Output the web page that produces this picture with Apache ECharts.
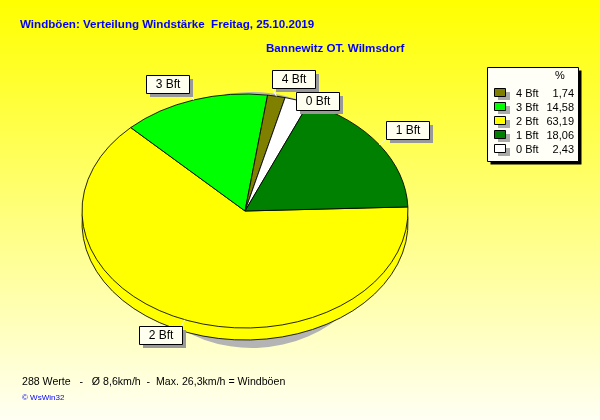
<!DOCTYPE html>
<html>
<head>
<meta charset="utf-8">
<script src="https://cdn.jsdelivr.net/npm/echarts@6/dist/echarts.min.js"></script>
<style>html,body{margin:0;padding:0;}#c{width:600px;height:420px;}</style>
</head>
<body>
<div id="c"></div>
<script>
// ---- data ----
const categories = ['4 Bft', '3 Bft', '2 Bft', '1 Bft', '0 Bft'];
const percents = [1.74, 14.58, 63.19, 18.06, 2.43];
const sliceColors = ['#808000', '#00FF00', '#FFFF00', '#008000', '#FFFFFF'];
const pieOrder = ['2 Bft', '3 Bft', '4 Bft', '0 Bft', '1 Bft'];
const titleText = 'Windböen: Verteilung Windstärke  Freitag, 25.10.2019';
const subtitleText = 'Bannewitz OT. Wilmsdorf';
const footerText = '288 Werte   -   Ø 8,6km/h  -  Max. 26,3km/h = Windböen';
const copyrightText = '© WsWin32';

// ---- layout (not data) ----
const FONT = '"Liberation Sans", Arial, sans-serif';
const CX = 245, CY = 211, RX = 163, RY = 117, DEPTH = 12, START = -2;
const SH = { x: 252, y: 220, rx: 135, ry: 128 };
const BOXW = 43, BOXH = 18;
const labelPlacement = {
  '2 Bft': { corner: 'tr', dx: -3, dy: 6 },
  '3 Bft': { corner: 'br', dx: -5, dy: -7 },
  '4 Bft': { corner: 'bl', dx: -4, dy: -8 },
  '0 Bft': { corner: 'tl', dx: -1, dy: -8 },
  '1 Bft': { corner: 'bl', dx: 7, dy: -6 }
};

const pieData = pieOrder.map(n => {
  const i = categories.indexOf(n);
  return { name: n, value: percents[i], itemStyle: { color: sliceColors[i] } };
});
const total = pieData.reduce((s, d) => s + d.value, 0);
const cum = [];
pieData.reduce((s, d, k) => { cum[k] = s; return s + d.value; }, 0);
const rad = d => d * Math.PI / 180;
const fmt = v => v.toFixed(2).replace('.', ',');

function renderItem(params, api) {
  const k = params.dataIndex;
  const v = api.value(0);
  const a0 = START + cum[k] / total * 360;
  const a1 = a0 + v / total * 360;
  const color = pieData[k].itemStyle.color;
  const name = pieData[k].name;
  const children = [];
  children.push({
    type: 'sector', x: SH.x, y: SH.y, scaleY: SH.ry / SH.rx, z2: 0,
    shape: { cx: 0, cy: 0, r: SH.rx, r0: 0, startAngle: rad(a0), endAngle: rad(a1), clockwise: true },
    style: { fill: '#B4B4B4' }
  });
  children.push({
    type: 'sector', x: CX, y: CY + DEPTH, scaleY: RY / RX, z2: 1,
    shape: { cx: 0, cy: 0, r: RX, r0: 0, startAngle: rad(a0), endAngle: rad(a1), clockwise: true },
    style: { fill: color, stroke: '#000', lineWidth: 1, strokeNoScale: true }
  });
  children.push({
    type: 'sector', x: CX, y: CY, scaleY: RY / RX, z2: 2,
    shape: { cx: 0, cy: 0, r: RX, r0: 0, startAngle: rad(a0), endAngle: rad(a1), clockwise: true },
    style: { fill: color, stroke: '#000', lineWidth: 1, strokeNoScale: true }
  });
  const m = rad((a0 + a1) / 2);
  const px = CX + RX * Math.cos(m), py = CY + RY * Math.sin(m);
  const pl = labelPlacement[name];
  const qx = px + pl.dx, qy = py + pl.dy;
  const left = Math.round(pl.corner[1] === 'r' ? qx - BOXW : qx);
  const top = Math.round(pl.corner[0] === 'b' ? qy - BOXH : qy);
  children.push({
    type: 'line', z2: 3,
    shape: { x1: px, y1: py, x2: qx, y2: qy },
    style: { stroke: '#FFFFFF', lineWidth: 1 }
  });
  children.push({
    type: 'rect', z2: 4,
    shape: { x: left + 4, y: top + 4, width: BOXW, height: BOXH },
    style: { fill: '#999999' }
  });
  children.push({
    type: 'rect', z2: 5,
    shape: { x: left + 0.5, y: top + 0.5, width: BOXW, height: BOXH },
    style: { fill: '#FFFFF0', stroke: '#000', lineWidth: 1 }
  });
  children.push({
    type: 'text', z2: 6,
    style: {
      text: name, x: left + BOXW / 2 + 0.5, y: top + BOXH / 2 + 1,
      align: 'center', verticalAlign: 'middle',
      font: '12px ' + FONT, fill: '#000'
    }
  });
  return { type: 'group', children };
}

// legend built from arrays
const LX = 487, LY = 67, LW = 91, LH = 94;
const legendChildren = [
  { type: 'rect', shape: { x: LX + 3.5, y: LY + 3.5, width: LW, height: LH }, style: { fill: '#000' } },
  { type: 'rect', shape: { x: LX + 0.5, y: LY + 0.5, width: LW, height: LH }, style: { fill: '#FFFFF8', stroke: '#000', lineWidth: 1 } },
  { type: 'text', style: { text: '%', x: 560, y: 76, align: 'center', verticalAlign: 'middle', font: '11px ' + FONT, fill: '#000' } }
];
categories.forEach((c, i) => {
  const ry = 93 + i * 14;
  legendChildren.push({ type: 'rect', shape: { x: 498, y: ry - 1, width: 12, height: 8 }, style: { fill: '#AAAAAA' } });
  legendChildren.push({ type: 'rect', shape: { x: 494.5, y: ry - 4.5, width: 11, height: 8 }, style: { fill: sliceColors[i], stroke: '#000', lineWidth: 1 } });
  legendChildren.push({ type: 'text', style: { text: c, x: 516, y: ry + 0.5, align: 'left', verticalAlign: 'middle', font: '11px ' + FONT, fill: '#000' } });
  legendChildren.push({ type: 'text', style: { text: fmt(percents[i]), x: 574, y: ry + 0.5, align: 'right', verticalAlign: 'middle', font: '11px ' + FONT, fill: '#000' } });
});

const chart = echarts.init(document.getElementById('c'), null, { renderer: 'canvas' });
chart.setOption({
  animation: false,
  backgroundColor: {
    type: 'linear', x: 0, y: 0, x2: 0, y2: 1,
    colorStops: [{ offset: 0, color: '#FFFF00' }, { offset: 1, color: '#FFFFF4' }]
  },
  title: [
    { text: titleText, left: 20, top: 19, padding: 0,
      textStyle: { color: '#0000FF', fontSize: 11.6, fontWeight: 'bold', fontFamily: FONT } },
    { text: subtitleText, left: 266, top: 43, padding: 0,
      textStyle: { color: '#0000FF', fontSize: 11.6, fontWeight: 'bold', fontFamily: FONT } },
    { text: footerText, left: 22, top: 377, padding: 0,
      textStyle: { color: '#000', fontSize: 10.6, fontWeight: 'normal', fontFamily: FONT } },
    { text: copyrightText, left: 22, top: 394, padding: 0,
      textStyle: { color: '#0000FF', fontSize: 8, fontWeight: 'normal', fontFamily: FONT } }
  ],
  graphic: [{ type: 'group', children: legendChildren }],
  series: [{
    type: 'custom',
    name: 'Windstärke',
    coordinateSystem: 'none',
    renderItem: renderItem,
    data: pieData
  }]
});
</script>
</body>
</html>
